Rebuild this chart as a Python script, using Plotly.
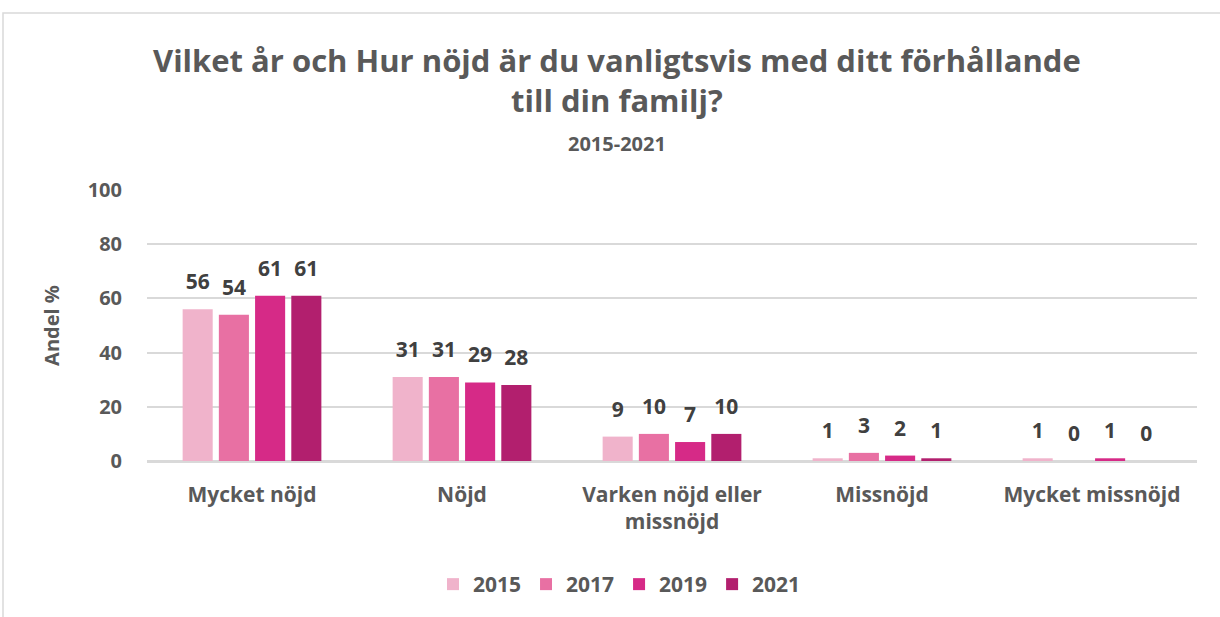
import plotly.graph_objects as go

categories = ["Mycket nöjd", "Nöjd", "Varken nöjd eller<br>missnöjd", "Missnöjd", "Mycket missnöjd"]
years = ["2015", "2017", "2019", "2021"]
values_2015 = [56, 31, 9, 1, 1]
values_2017 = [54, 31, 10, 3, 0]
values_2019 = [61, 29, 7, 2, 1]
values_2021 = [61, 28, 10, 1, 0]
series = [values_2015, values_2017, values_2019, values_2021]
colors = ["#F0B3CB", "#E870A3", "#D62A87", "#B21F6E"]

FONT = "Open Sans"
GREY = "#595959"

fig = go.Figure()
for year, vals, col in zip(years, series, colors):
    fig.add_trace(go.Bar(
        x=categories, y=vals, name=year,
        offsetgroup=year, alignmentgroup="g",
        marker=dict(color=col, line=dict(width=0)),
    ))
# value labels, lifted above each bar via an invisible marker
for year, vals in zip(years, series):
    fig.add_trace(go.Scatter(
        x=categories, y=vals, mode="markers+text", showlegend=False,
        offsetgroup=year, alignmentgroup="g",
        marker=dict(size=22, opacity=0),
        text=[str(v) for v in vals], textposition="top center",
        textfont=dict(family=FONT, size=21, color="#404040", weight="bold"),
        cliponaxis=False, hoverinfo="skip",
    ))

L, R, T, B = 147, 23, 190, 156
W, H = 1220, 617
pw, ph = W - L - R, H - T - B

fig.update_layout(
    width=W, height=H,
    margin=dict(l=L, r=R, t=T, b=B),
    paper_bgcolor="white", plot_bgcolor="white",
    barmode="group", bargap=0.31, bargroupgap=0.17,
    scattermode="group", scattergap=0.31,
    font=dict(family=FONT, color=GREY),
    showlegend=True,
    legend=dict(orientation="h", x=0.45, xanchor="center", y=-0.38, yanchor="top",
                font=dict(family=FONT, size=21, color=GREY, weight="bold"),
                itemwidth=30, traceorder="normal"),
    xaxis=dict(showgrid=False, showline=True, linecolor="#D9D9D9", linewidth=1.5,
               ticks="", tickfont=dict(family=FONT, size=21, color=GREY, weight="bold"),
               ticklabelstandoff=14),
    yaxis=dict(range=[0, 100], dtick=20, showgrid=True, gridcolor="#D9D9D9", gridwidth=1.5,
               zeroline=True, zerolinecolor="#D9D9D9", zerolinewidth=1.5,
               tickfont=dict(family=FONT, size=20, color=GREY, weight="bold"),
               ticklabelstandoff=24,
               title=dict(text="Andel %", font=dict(family=FONT, size=20, color=GREY, weight="bold"),
                          standoff=22)),
    annotations=[
        dict(text="Vilket år och Hur nöjd är du vanligtsvis med ditt förhållande<br>till din familj?",
             x=(617 - L) / pw, xref="paper", xanchor="center",
             y=(H - B - 37) / ph, yref="paper", yanchor="top",
             showarrow=False, align="center",
             font=dict(family=FONT, size=31, color=GREY, weight="bold")),
        dict(text="2015-2021",
             x=(617 - L) / pw, xref="paper", xanchor="center",
             y=(H - B - 128) / ph, yref="paper", yanchor="top",
             showarrow=False,
             font=dict(family=FONT, size=20, color=GREY, weight="bold")),
    ],
    shapes=[dict(type="rect", xref="paper", yref="paper",
                 x0=(3 - L) / pw, x1=(W + 10 - L) / pw,
                 y0=-(B + 10) / ph, y1=(H - B - 13) / ph,
                 line=dict(color="#D9D9D9", width=1.5), layer="below")],
)

fig.write_html("out.html")
